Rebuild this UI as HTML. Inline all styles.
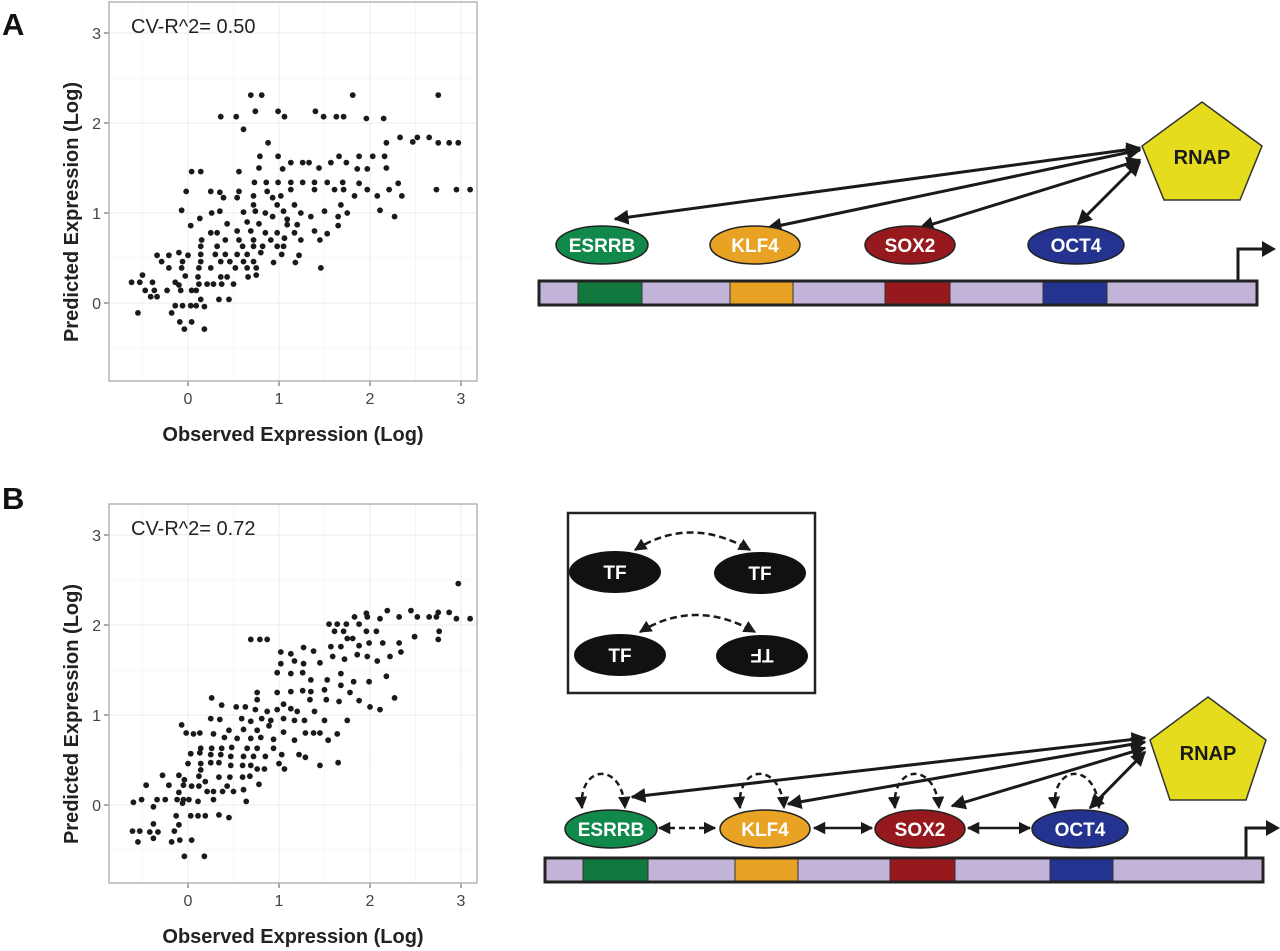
<!DOCTYPE html>
<html><head><meta charset="utf-8"><style>
html,body{margin:0;padding:0;background:#fff;}
svg{display:block;font-family:"Liberation Sans",Arial,sans-serif;}
</style></head><body>
<svg id="fig" width="1280" height="951" viewBox="0 0 1280 951">
<defs>
<marker id="ah" viewBox="0 0 10 10" refX="9" refY="5" markerWidth="5" markerHeight="5" orient="auto-start-reverse"><path d="M0,0 L10,5 L0,10 z" fill="#1a1a1a"/></marker>
</defs>
<g id="plotA"></g>
<g id="plotB"></g>
<text x="2" y="35" font-size="31" font-weight="bold" fill="#111">A</text>
<text x="2" y="509" font-size="31" font-weight="bold" fill="#111">B</text>

<!-- Diagram A -->
<g>
  <g stroke="#1a1a1a" stroke-width="3" fill="none" marker-start="url(#ah)" marker-end="url(#ah)">
    <line x1="1140" y1="148" x2="615" y2="219"/>
    <line x1="1140" y1="150" x2="768" y2="228"/>
    <line x1="1140" y1="160" x2="920" y2="228"/>
    <line x1="1140" y1="162" x2="1078" y2="224"/>
  </g>
  <polygon points="1202,102 1262,146 1240,200 1164,200 1142,146" fill="#e6dc1e" stroke="#333" stroke-width="1.5"/>
  <text x="1202" y="164" font-size="20" font-weight="bold" text-anchor="middle" fill="#1a1a1a">RNAP</text>
  <g font-size="19" font-weight="bold" text-anchor="middle" fill="#fff">
    <ellipse cx="602" cy="245" rx="46" ry="19" fill="#11894a" stroke="#222" stroke-width="1.5"/>
    <text x="602" y="252">ESRRB</text>
    <ellipse cx="755" cy="245" rx="45" ry="19" fill="#e8a224" stroke="#222" stroke-width="1.5"/>
    <text x="755" y="252">KLF4</text>
    <ellipse cx="910" cy="245" rx="45" ry="19" fill="#961a1d" stroke="#222" stroke-width="1.5"/>
    <text x="910" y="252">SOX2</text>
    <ellipse cx="1076" cy="245" rx="48" ry="19" fill="#24338f" stroke="#222" stroke-width="1.5"/>
    <text x="1076" y="252">OCT4</text>
  </g>
  <g>
    <rect x="539" y="281" width="718" height="24" fill="#c2b4d8"/>
    <rect x="578" y="281" width="64" height="24" fill="#11793d"/>
    <rect x="730" y="281" width="63" height="24" fill="#e8a224"/>
    <rect x="885" y="281" width="65" height="24" fill="#961a1d"/>
    <rect x="1043" y="281" width="64" height="24" fill="#24338f"/>
    <g stroke="#333" stroke-width="1"><line x1="578" y1="281" x2="578" y2="305"/><line x1="642" y1="281" x2="642" y2="305"/><line x1="730" y1="281" x2="730" y2="305"/><line x1="793" y1="281" x2="793" y2="305"/><line x1="885" y1="281" x2="885" y2="305"/><line x1="950" y1="281" x2="950" y2="305"/><line x1="1043" y1="281" x2="1043" y2="305"/><line x1="1107" y1="281" x2="1107" y2="305"/></g>
    <rect x="539" y="281" width="718" height="24" fill="none" stroke="#222" stroke-width="3"/>
  </g>
  <path d="M1238,280 V249 H1264" fill="none" stroke="#1a1a1a" stroke-width="3"/>
  <polygon points="1262,241 1276,249 1262,257" fill="#1a1a1a"/>
</g>

<!-- Diagram B -->
<g>
  <rect x="568" y="513" width="247" height="180" fill="none" stroke="#222" stroke-width="2.5"/>
  <g stroke="#1a1a1a" stroke-width="2.5" fill="none" stroke-dasharray="7,4" marker-start="url(#ah)" marker-end="url(#ah)">
    <path d="M635,550 Q690,515 750,550"/>
    <path d="M640,632 Q695,598 755,632"/>
  </g>
  <g fill="#111" font-size="19" font-weight="bold" text-anchor="middle">
    <ellipse cx="615" cy="572" rx="46" ry="21"/>
    <ellipse cx="760" cy="573" rx="46" ry="21"/>
    <ellipse cx="620" cy="655" rx="46" ry="21"/>
    <ellipse cx="762" cy="656" rx="46" ry="21"/>
    <text x="615" y="579" fill="#fff">TF</text>
    <text x="760" y="580" fill="#fff">TF</text>
    <text x="620" y="662" fill="#fff">TF</text>
    <text x="0" y="0" fill="#fff" transform="translate(762,656) rotate(180) translate(0,7)">TF</text>
  </g>
  <g stroke="#1a1a1a" stroke-width="3" fill="none" marker-start="url(#ah)" marker-end="url(#ah)">
    <line x1="1145" y1="738" x2="632" y2="797"/>
    <line x1="1145" y1="742" x2="788" y2="804"/>
    <line x1="1145" y1="748" x2="952" y2="806"/>
    <line x1="1145" y1="752" x2="1090" y2="808"/>
  </g>
  <g stroke="#1a1a1a" stroke-width="2.5" fill="none" stroke-dasharray="6,4" marker-start="url(#ah)" marker-end="url(#ah)">
    <path d="M582,808 C578,765 622,760 625,808"/>
    <path d="M740,808 C736,765 780,760 784,808"/>
    <path d="M895,808 C891,765 935,760 939,808"/>
    <path d="M1055,808 C1051,765 1095,760 1099,808"/>
    <line x1="659" y1="828" x2="715" y2="828"/>
  </g>
  <g stroke="#1a1a1a" stroke-width="2.5" marker-start="url(#ah)" marker-end="url(#ah)">
    <line x1="814" y1="828" x2="872" y2="828"/>
    <line x1="968" y1="828" x2="1030" y2="828"/>
  </g>
  <polygon points="1208,697 1266,740 1246,800 1170,800 1150,740" fill="#e6dc1e" stroke="#333" stroke-width="1.5"/>
  <text x="1208" y="760" font-size="20" font-weight="bold" text-anchor="middle" fill="#1a1a1a">RNAP</text>
  <g font-size="19" font-weight="bold" text-anchor="middle" fill="#fff">
    <ellipse cx="611" cy="829" rx="46" ry="19" fill="#11894a" stroke="#222" stroke-width="1.5"/>
    <text x="611" y="836">ESRRB</text>
    <ellipse cx="765" cy="829" rx="45" ry="19" fill="#e8a224" stroke="#222" stroke-width="1.5"/>
    <text x="765" y="836">KLF4</text>
    <ellipse cx="920" cy="829" rx="45" ry="19" fill="#961a1d" stroke="#222" stroke-width="1.5"/>
    <text x="920" y="836">SOX2</text>
    <ellipse cx="1080" cy="829" rx="48" ry="19" fill="#24338f" stroke="#222" stroke-width="1.5"/>
    <text x="1080" y="836">OCT4</text>
  </g>
  <g>
    <rect x="545" y="858" width="718" height="24" fill="#c2b4d8"/>
    <rect x="583" y="858" width="65" height="24" fill="#11793d"/>
    <rect x="735" y="858" width="63" height="24" fill="#e8a224"/>
    <rect x="890" y="858" width="65" height="24" fill="#961a1d"/>
    <rect x="1050" y="858" width="63" height="24" fill="#24338f"/>
    <g stroke="#333" stroke-width="1"><line x1="583" y1="858" x2="583" y2="882"/><line x1="648" y1="858" x2="648" y2="882"/><line x1="735" y1="858" x2="735" y2="882"/><line x1="798" y1="858" x2="798" y2="882"/><line x1="890" y1="858" x2="890" y2="882"/><line x1="955" y1="858" x2="955" y2="882"/><line x1="1050" y1="858" x2="1050" y2="882"/><line x1="1113" y1="858" x2="1113" y2="882"/></g>
    <rect x="545" y="858" width="718" height="24" fill="none" stroke="#222" stroke-width="3"/>
  </g>
  <path d="M1246,857 V828 H1268" fill="none" stroke="#1a1a1a" stroke-width="3"/>
  <polygon points="1266,820 1280,828 1266,836" fill="#1a1a1a"/>
</g>

<script>
const xTicks=[0,1,2,3];
const yTicks=[0,1,2,3];
const xTickLabels=["0","1","2","3"];
const yTickLabels=["0","1","2","3"];
const r2A="CV-R^2= 0.50";
const r2B="CV-R^2= 0.72";
const obsA=[0.69,0.81,1.81,2.75,0.36,0.53,0.74,0.99,1.06,1.40,1.49,1.63,1.71,1.96,2.15,0.61,0.88,2.18,2.33,2.47,2.52,2.65,2.75,2.87,2.97,0.79,0.99,1.13,1.04,1.26,1.33,1.44,1.57,1.66,1.74,1.88,2.03,2.16,1.86,1.97,2.18,0.04,0.14,0.56,0.78,0.73,0.86,0.99,1.13,1.26,1.39,1.53,1.70,1.88,2.31,-0.02,0.25,0.35,0.56,0.72,0.87,1.02,1.13,1.39,1.61,1.71,1.83,1.97,2.08,2.21,2.35,2.73,2.95,3.10,0.39,0.54,0.93,-0.07,0.13,0.03,0.26,0.35,0.61,0.72,0.74,0.85,0.98,1.05,1.17,1.24,1.35,1.50,1.68,1.75,1.65,1.65,2.11,2.27,0.93,1.09,1.20,1.09,0.43,0.65,0.78,0.54,0.32,0.25,0.69,0.85,0.98,1.17,1.39,1.53,0.15,0.41,0.56,0.72,0.91,1.06,1.24,1.45,0.32,0.14,0.60,0.72,0.82,0.98,1.05,-0.34,-0.21,-0.10,0.00,0.14,0.30,0.41,0.54,0.65,0.80,1.03,1.22,-0.29,-0.06,0.14,0.36,0.46,0.61,0.72,0.94,1.18,-0.21,-0.07,0.12,0.25,0.52,0.65,0.75,1.46,-0.50,-0.03,0.11,0.36,0.43,0.66,0.75,-0.62,-0.53,-0.39,-0.14,-0.10,0.12,0.21,0.28,0.37,0.50,-0.47,-0.37,-0.23,-0.08,0.04,0.09,-0.41,-0.34,0.14,0.34,0.45,0.18,-0.14,-0.06,0.03,0.09,-0.55,-0.18,-0.09,0.04,-0.04,0.18];
const predA=[2.31,2.31,2.31,2.31,2.07,2.07,2.13,2.13,2.07,2.13,2.07,2.07,2.07,2.05,2.05,1.93,1.78,1.78,1.84,1.79,1.84,1.84,1.78,1.78,1.78,1.63,1.63,1.56,1.49,1.56,1.56,1.50,1.56,1.63,1.56,1.63,1.63,1.63,1.49,1.49,1.50,1.46,1.46,1.46,1.50,1.34,1.34,1.34,1.34,1.34,1.34,1.34,1.34,1.33,1.33,1.24,1.24,1.23,1.24,1.19,1.24,1.19,1.26,1.26,1.26,1.26,1.19,1.26,1.19,1.26,1.19,1.26,1.26,1.26,1.17,1.17,1.17,1.03,0.94,0.86,1.00,1.02,1.01,1.09,1.02,1.00,1.09,1.02,1.09,1.00,0.96,1.02,1.09,1.00,0.96,0.86,1.03,0.96,0.96,0.93,0.87,0.87,0.88,0.90,0.88,0.80,0.78,0.78,0.80,0.78,0.78,0.78,0.80,0.77,0.70,0.70,0.70,0.70,0.70,0.72,0.70,0.70,0.63,0.63,0.63,0.63,0.63,0.63,0.63,0.53,0.53,0.56,0.53,0.54,0.54,0.54,0.54,0.54,0.56,0.54,0.53,0.46,0.46,0.46,0.46,0.46,0.46,0.46,0.45,0.45,0.39,0.39,0.39,0.39,0.39,0.39,0.39,0.39,0.31,0.30,0.29,0.29,0.29,0.29,0.31,0.23,0.23,0.23,0.23,0.20,0.21,0.21,0.21,0.21,0.21,0.14,0.14,0.14,0.14,0.14,0.14,0.07,0.07,0.04,0.04,0.04,-0.04,-0.03,-0.03,-0.03,-0.03,-0.11,-0.11,-0.21,-0.21,-0.29,-0.29];
const obsB=[2.97,1.96,2.19,2.45,2.52,2.65,2.75,2.87,2.95,3.10,1.83,1.97,2.11,2.32,2.73,1.55,1.64,1.74,1.88,1.61,1.71,1.96,2.07,2.76,2.49,2.75,0.69,0.79,0.87,1.75,1.81,1.02,1.13,1.27,1.38,1.57,1.68,1.88,1.99,2.14,2.32,1.02,1.17,1.27,1.45,1.59,1.72,1.86,1.97,2.08,2.22,2.34,0.98,1.13,1.26,1.35,1.53,1.68,1.82,1.99,2.18,0.76,0.98,1.13,1.26,1.35,1.50,1.68,1.78,1.88,2.00,2.11,2.27,1.34,1.52,1.66,0.26,0.37,0.53,0.63,0.76,0.74,0.87,0.98,1.05,1.13,1.20,1.39,0.25,0.35,0.59,0.69,0.81,0.91,1.05,1.17,1.28,1.50,1.75,-0.07,0.45,0.61,0.76,0.89,1.05,1.29,1.38,1.45,1.64,-0.02,0.06,0.13,0.28,0.40,0.54,0.69,0.80,0.94,1.17,1.54,0.14,0.26,0.37,0.48,0.65,0.76,0.94,0.03,0.13,0.25,0.36,0.47,0.61,0.72,0.85,1.03,1.22,1.29,0.00,0.14,0.25,0.34,0.47,0.60,0.69,1.00,1.06,1.45,1.65,0.76,0.84,0.14,-0.28,-0.10,0.12,0.34,0.46,0.60,0.68,-0.04,0.19,0.78,-0.46,-0.21,-0.05,0.04,0.12,0.43,0.21,0.28,0.38,0.50,0.61,-0.10,-0.51,-0.34,-0.25,-0.12,-0.05,0.01,0.11,0.28,-0.60,0.64,-0.38,-0.06,0.03,0.11,0.19,0.34,0.45,-0.13,-0.10,-0.38,-0.61,-0.53,-0.42,-0.33,-0.15,-0.55,-0.38,-0.18,-0.09,0.04,-0.04,0.18];
const predB=[2.46,2.13,2.16,2.16,2.09,2.09,2.14,2.14,2.07,2.07,2.09,2.09,2.07,2.09,2.09,2.01,2.01,2.01,2.01,1.93,1.93,1.93,1.93,1.93,1.87,1.84,1.84,1.84,1.84,1.85,1.85,1.70,1.68,1.75,1.71,1.76,1.76,1.77,1.80,1.80,1.80,1.57,1.60,1.57,1.58,1.65,1.62,1.67,1.65,1.60,1.65,1.70,1.47,1.46,1.47,1.39,1.39,1.46,1.37,1.37,1.43,1.25,1.25,1.26,1.27,1.26,1.28,1.33,1.25,1.16,1.09,1.06,1.19,1.17,1.17,1.15,1.19,1.11,1.09,1.09,1.17,1.06,1.04,1.06,1.12,1.07,1.04,1.04,0.96,0.95,0.96,0.93,0.96,0.94,0.96,0.94,0.94,0.94,0.94,0.89,0.83,0.84,0.83,0.88,0.81,0.80,0.80,0.80,0.79,0.80,0.79,0.80,0.79,0.75,0.74,0.74,0.75,0.73,0.72,0.72,0.63,0.63,0.63,0.64,0.63,0.63,0.63,0.57,0.58,0.56,0.56,0.54,0.54,0.54,0.54,0.56,0.56,0.53,0.46,0.46,0.47,0.47,0.44,0.44,0.44,0.46,0.40,0.44,0.47,0.40,0.40,0.39,0.33,0.33,0.32,0.31,0.31,0.31,0.32,0.28,0.26,0.23,0.22,0.22,0.22,0.21,0.21,0.21,0.15,0.15,0.15,0.15,0.17,0.14,0.06,0.06,0.06,0.06,0.06,0.06,0.04,0.06,0.03,0.04,-0.02,0.02,-0.12,-0.12,-0.12,-0.11,-0.14,-0.12,-0.22,-0.21,-0.29,-0.29,-0.30,-0.30,-0.29,-0.41,-0.37,-0.41,-0.39,-0.39,-0.57,-0.57];

const NS="http://www.w3.org/2000/svg";
function mk(parent,tag,attrs){const e=document.createElementNS(NS,tag);for(const k in attrs)e.setAttribute(k,attrs[k]);parent.appendChild(e);return e;}

function drawPanel(g,offY,obs,pred,r2){
  const L=109,R=477,T=2+offY,B=381+offY;
  const sx=v=>188+v*91;
  const sy=v=>303+offY-v*90;
  mk(g,'rect',{x:L,y:T,width:R-L,height:B-T,fill:'#fff'});
  [-0.5,0.5,1.5,2.5].forEach(v=>{mk(g,'line',{x1:sx(v),x2:sx(v),y1:T,y2:B,stroke:'#f4f4f4','stroke-width':0.8});});
  [-0.5,0.5,1.5,2.5].forEach(v=>{mk(g,'line',{x1:L,x2:R,y1:sy(v),y2:sy(v),stroke:'#f4f4f4','stroke-width':0.8});});
  xTicks.forEach((v,i)=>{
    const gl=mk(g,'line',{x1:sx(v),x2:sx(v),y1:T,y2:B,stroke:'#ebebeb','stroke-width':1});
    
    
    mk(g,'line',{x1:sx(v),x2:sx(v),y1:B,y2:B+5,stroke:'#555','stroke-width':1});
    const t=mk(g,'text',{x:sx(v),y:B+23,'font-size':16,'text-anchor':'middle',fill:'#444'});
    t.textContent=xTickLabels[i];
    
    
  });
  yTicks.forEach((v,i)=>{
    const gl=mk(g,'line',{x1:L,x2:R,y1:sy(v),y2:sy(v),stroke:'#ebebeb','stroke-width':1});
    
    
    mk(g,'line',{x1:L-5,x2:L,y1:sy(v),y2:sy(v),stroke:'#555','stroke-width':1});
    const t=mk(g,'text',{x:L-8,y:sy(v)+6,'font-size':16,'text-anchor':'end',fill:'#444'});
    t.textContent=yTickLabels[i];
    
    
  });
  const fr=mk(g,'rect',{x:L,y:T,width:R-L,height:B-T,fill:'none',stroke:'#aaa','stroke-width':1.3});
  
  
  obs.forEach((v,i)=>{
    const c=mk(g,'circle',{cx:sx(v),cy:sy(pred[i]),r:2.9,fill:'#1a1a1a'});
    
    
  });
  const rt=mk(g,'text',{x:131,y:33+offY,'font-size':20,fill:'#222'});
  rt.textContent=r2;
  
  
  const xt=mk(g,'text',{x:293,y:441+offY,'font-size':20,'font-weight':'bold','text-anchor':'middle',fill:'#222'});
  xt.textContent='Observed Expression (Log)';
  
  
  const yt=mk(g,'text',{x:0,y:0,'font-size':20,'font-weight':'bold','text-anchor':'middle',fill:'#222',transform:`translate(78,${212+offY}) rotate(-90)`});
  yt.textContent='Predicted Expression (Log)';
  
  
}
drawPanel(document.getElementById('plotA'),0,obsA,predA,r2A);
drawPanel(document.getElementById('plotB'),502,obsB,predB,r2B);
</script>
</svg>
</body></html>
